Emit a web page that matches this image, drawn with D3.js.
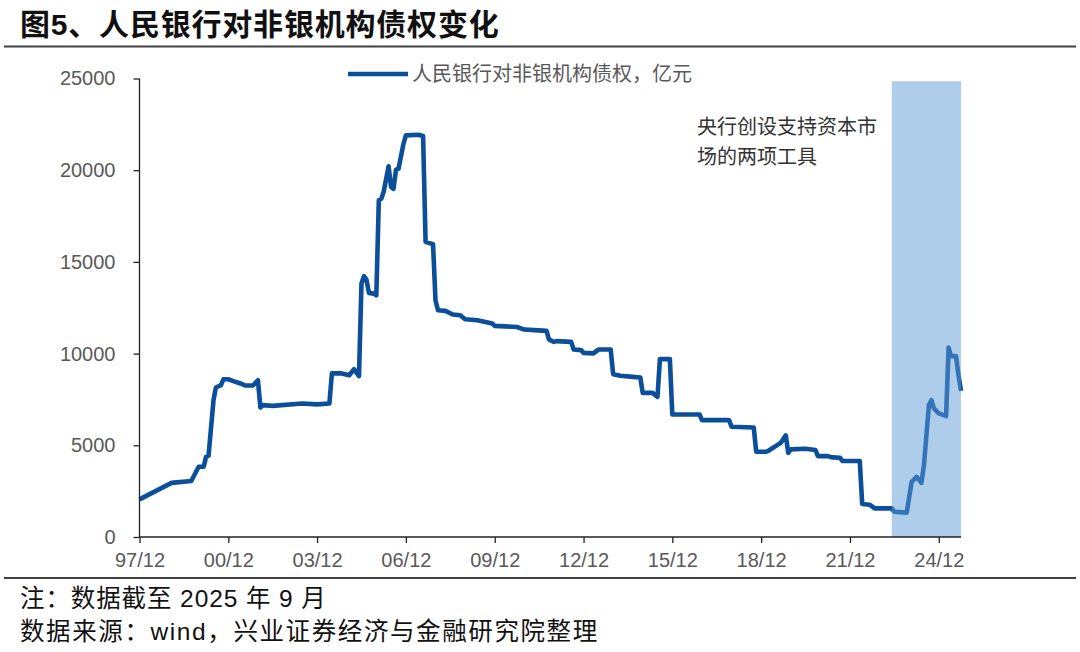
<!DOCTYPE html>
<html>
<head>
<meta charset="utf-8">
<script src="https://cdn.jsdelivr.net/npm/d3@7"></script>
<style>
  html, body { margin: 0; padding: 0; background: #fff; }
  svg { display: block; }
  text { font-family: "Liberation Sans", Arial, "Noto Sans CJK SC", sans-serif; }
</style>
</head>
<body>
<svg id="chart" width="1080" height="652"></svg>
<script>
// ---- Data ----
const titleText = "图5、人民银行对非银机构债权变化";
const seriesName = "人民银行对非银机构债权，亿元";
const noteText = "注：数据截至 2025 年 9 月";
const sourceText = "数据来源：wind，兴业证券经济与金融研究院整理";
const annotationLines = ["央行创设支持资本市", "场的两项工具"];

const dates = [
  "1997-12","1999-01","1999-09","1999-12","2000-02","2000-03","2000-04","2000-06","2000-07","2000-09",
  "2000-10","2000-12","2001-02","2001-05","2001-07","2001-10","2001-12","2002-01","2002-02","2002-06",
  "2003-06","2003-12","2004-05","2004-06","2004-10","2005-01","2005-03","2005-05","2005-06","2005-07",
  "2005-08","2005-09","2005-11","2005-12","2006-01","2006-02","2006-03","2006-05","2006-06","2006-07",
  "2006-08","2006-09","2006-11","2006-12","2007-05","2007-07","2007-08","2007-11","2007-12","2008-01",
  "2008-04","2008-07","2008-10","2008-12","2009-05","2009-11","2009-12","2010-09","2010-12","2011-04",
  "2011-09","2011-10","2011-12","2012-01","2012-07","2012-08","2012-11","2012-12","2013-04","2013-06",
  "2013-11","2013-12","2014-03","2014-08","2014-11","2014-12","2015-04","2015-06","2015-07","2015-11",
  "2015-12","2016-11","2016-12","2017-11","2017-12","2018-09","2018-10","2019-02","2019-03","2019-07",
  "2019-08","2019-10","2019-11","2019-12","2020-06","2020-10","2020-11","2021-03","2021-05","2021-08",
  "2021-09","2022-04","2022-05","2022-08","2022-10","2023-05","2023-06","2023-11","2024-01","2024-03",
  "2024-05","2024-06","2024-08","2024-09","2024-10","2024-12","2025-03","2025-04","2025-05","2025-07",
  "2025-08","2025-09"
];
const claims = [
  2050,2950,3050,3830,3830,4370,4430,7460,8150,8280,
  8600,8600,8500,8370,8260,8260,8550,7060,7190,7150,
  7280,7230,7280,8920,8920,8820,9150,8770,13820,14220,
  14030,13310,13270,13180,18360,18450,18810,20210,19080,18990,
  20030,20080,21440,21900,21930,21860,16090,15960,12910,12360,
  12330,12130,12090,11870,11820,11640,11510,11450,11310,11280,
  11240,10770,10640,10680,10640,10220,10190,10040,10010,10220,
  10220,8880,8790,8730,8700,7860,7860,7640,9700,9700,
  6680,6680,6370,6370,6010,5970,4650,4650,4700,5050,
  5140,5540,4590,4780,4810,4740,4410,4410,4340,4320,
  4140,4140,1800,1760,1560,1560,1380,1330,3010,3280,
  2960,3920,7190,7460,7010,6740,6590,10330,9860,9860,
  8820,7970
];
const xDomain = ["1997-12", "2025-09"];
const xTickDates = ["1997-12","2000-12","2003-12","2006-12","2009-12","2012-12","2015-12","2018-12","2021-12","2024-12"];
const yTicks = [0, 5000, 10000, 15000, 20000, 25000];
const yDomain = [0, 25000];
const shadePeriod = ["2023-05", "2025-09"];
const shadeTopValue = 24850;

// ---- Drawing ----
const parse = d3.timeParse("%Y-%m");
const data = dates.map((d, i) => ({ date: parse(d), value: claims[i] }));

const svg = d3.select("#chart");
const x = d3.scaleTime().domain(xDomain.map(parse)).range([139.5, 961]);
const y = d3.scaleLinear().domain(yDomain).range([537, 78.5]);

// title
svg.append("text").attr("x", 20).attr("y", 35)
  .attr("font-size", 30).attr("font-weight", "bold").attr("fill", "#111")
  .attr("letter-spacing", 0.8)
  .text(titleText);
svg.append("line").attr("x1", 4).attr("x2", 1076).attr("y1", 46.5).attr("y2", 46.5)
  .attr("stroke", "#404040").attr("stroke-width", 2);

// line
const line = d3.line().x(d => x(d.date)).y(d => y(d.value)).curve(d3.curveLinear);
svg.append("path").datum(data)
  .attr("d", line).attr("fill", "none")
  .attr("stroke", "#0b4f9a").attr("stroke-width", 4.6)
  .attr("stroke-linejoin", "round").attr("stroke-linecap", "butt");

// shaded period (drawn over the line, semi-transparent)
svg.append("rect")
  .attr("x", x(parse(shadePeriod[0])))
  .attr("width", x(parse(shadePeriod[1])) - x(parse(shadePeriod[0])))
  .attr("y", y(shadeTopValue))
  .attr("height", y(0) - y(shadeTopValue))
  .attr("fill", "#5b9bd5").attr("fill-opacity", 0.5);

// y axis
const yAxis = d3.axisLeft(y).tickValues(yTicks).tickSize(6).tickPadding(18).tickFormat(d3.format("d"));
const gy = svg.append("g").attr("transform", "translate(139.5,0)").call(yAxis);
gy.select(".domain").attr("d", `M0,${y(25000)}V${y(0)}`).attr("stroke", "#222").attr("stroke-width", 1.3);
gy.selectAll(".tick line").attr("stroke", "#222").attr("stroke-width", 1.3);
gy.selectAll(".tick text").attr("font-size", 20).attr("fill", "#595959")
  .attr("font-family", "'Liberation Sans', Arial, sans-serif");

// x axis
const xAxis = d3.axisBottom(x).tickValues(xTickDates.map(parse)).tickSize(6).tickPadding(10)
  .tickFormat(d3.timeFormat("%y/%m"));
const gx = svg.append("g").attr("transform", `translate(0,${y(0)})`).call(xAxis);
gx.select(".domain").attr("d", `M139.5,0H961`).attr("stroke", "#222").attr("stroke-width", 1.3);
gx.selectAll(".tick line").attr("stroke", "#222").attr("stroke-width", 1.3);
gx.selectAll(".tick text").attr("font-size", 20).attr("fill", "#595959")
  .attr("font-family", "'Liberation Sans', Arial, sans-serif");

// legend
svg.append("line").attr("x1", 348).attr("x2", 408).attr("y1", 74).attr("y2", 74)
  .attr("stroke", "#0b4f9a").attr("stroke-width", 4.6);
svg.append("text").attr("x", 412).attr("y", 81).attr("font-size", 20).attr("fill", "#595959")
  .attr("font-family", "'Noto Sans CJK SC', sans-serif")
  .text(seriesName);

// annotation
annotationLines.forEach((t, i) => {
  svg.append("text").attr("x", 697).attr("y", 134 + i * 30)
    .attr("font-size", 20).attr("fill", "#333")
    .attr("font-family", "'Noto Sans CJK SC', sans-serif")
    .text(t);
});

// bottom rule and notes
svg.append("line").attr("x1", 4).attr("x2", 1076).attr("y1", 578).attr("y2", 578)
  .attr("stroke", "#404040").attr("stroke-width", 2);
svg.append("text").attr("x", 20).attr("y", 607).attr("font-size", 24.5).attr("fill", "#111")
  .attr("letter-spacing", 0.9)
  .text(noteText);
svg.append("text").attr("x", 20).attr("y", 640).attr("font-size", 24.5).attr("fill", "#111")
  .attr("letter-spacing", 1.6)
  .text(sourceText);
</script>
</body>
</html>
